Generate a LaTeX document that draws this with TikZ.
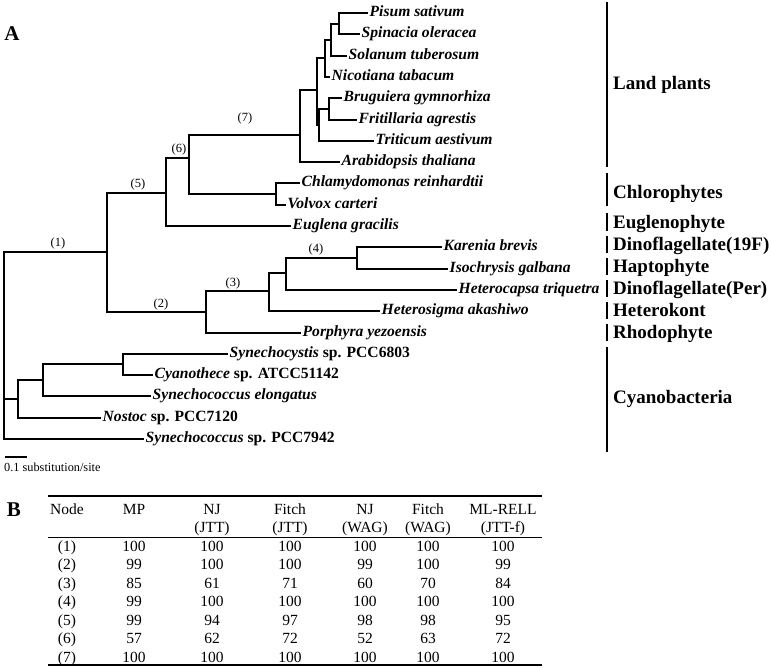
\documentclass[tikz,border=0pt]{standalone}
\usepackage{fontspec}
\setmainfont{Liberation Serif}
\begin{document}
\begin{tikzpicture}[x=1pt,y=-1pt,
  br/.style={line width=2pt},
  tip/.style={anchor=west,inner xsep=1.5pt,inner ysep=0pt,font=\fontsize{15.6}{15}\selectfont\bfseries\itshape,text height=10pt,text depth=3pt},
  grp/.style={anchor=west,inner sep=0pt,font=\fontsize{19}{19}\selectfont\bfseries,text height=12.5pt,text depth=0pt},
  grpbar/.style={line width=2.5pt},
  nlab/.style={inner sep=0pt,font=\fontsize{12.5}{12.5}\selectfont,text height=8pt,text depth=0pt},
  panel/.style={inner sep=0pt,font=\fontsize{21}{21}\selectfont\bfseries,text height=14pt,text depth=0pt},
  cell/.style={inner sep=0pt,font=\fontsize{15.5}{15.5}\selectfont,text height=10.5pt,text depth=0pt},
  rulethick/.style={line width=2pt},
  rulethin/.style={line width=1pt}]
\useasboundingbox (0,0) rectangle (771,668);

% panel letters
\node[panel] (A) at (12,34) {A};
\node[panel] (B) at (14,509) {B};

% internal nodes
\coordinate (root) at (4,345);
\coordinate (n1) at (107,252);
\coordinate (n5) at (166,193);
\coordinate (n6) at (189,158);
\coordinate (n7) at (300,135);
\coordinate (nLa) at (317,90);
\coordinate (nPSSN) at (325,58);
\coordinate (nPSS) at (331,40);
\coordinate (nPS) at (339,24);
\coordinate (nBFT) at (319,125);
\coordinate (nBF) at (329,109);
\coordinate (nCV) at (276,194);
\coordinate (n2) at (206,312);
\coordinate (n3) at (269,291);
\coordinate (n3b) at (286,273);
\coordinate (n4) at (357,258);
\coordinate (cy) at (18,399);
\coordinate (cy2) at (43,380);
\coordinate (cy3) at (123,364);

% tips
\node[tip] (t0) at (368,13) {Pisum sativum};
\node[tip] (t1) at (360,34) {Spinacia oleracea};
\node[tip] (t2) at (347,56) {Solanum tuberosum};
\node[tip] (t3) at (330,77) {Nicotiana tabacum};
\node[tip] (t4) at (342,98) {Bruguiera gymnorhiza};
\node[tip] (t5) at (357,120) {Fritillaria agrestis};
\node[tip] (t6) at (374,141) {Triticum aestivum};
\node[tip] (t7) at (340,162) {Arabidopsis thaliana};
\node[tip] (t8) at (300,183) {Chlamydomonas reinhardtii};
\node[tip] (t9) at (286,205) {Volvox carteri};
\node[tip] (t10) at (291,226) {Euglena gracilis};
\node[tip] (t11) at (442,247) {Karenia brevis};
\node[tip] (t12) at (448,269) {Isochrysis galbana};
\node[tip] (t13) at (457,290) {Heterocapsa triquetra};
\node[tip] (t14) at (380,311) {Heterosigma akashiwo};
\node[tip] (t15) at (301,333) {Porphyra yezoensis};
\node[tip] (t16) at (228,354) {Synechocystis\upshape\ sp. PCC6803};
\node[tip] (t17) at (153,375) {Cyanothece\upshape\ sp. ATCC51142};
\node[tip] (t18) at (151,396) {Synechococcus elongatus};
\node[tip] (t19) at (101,418) {Nostoc\upshape\ sp. PCC7120};
\node[tip] (t20) at (144,439) {Synechococcus\upshape\ sp. PCC7942};

% branches
\draw[br] (root) |- (n1);
\draw[br] (root) |- (cy);
\draw[br] (root) |- (t20.west);
\draw[br] (n1) |- (n5);
\draw[br] (n1) |- (n2);
\draw[br] (n5) |- (n6);
\draw[br] (n5) |- (t10.west);
\draw[br] (n6) |- (n7);
\draw[br] (n6) |- (nCV);
\draw[br] (n7) |- (nLa);
\draw[br] (n7) |- (t7.west);
\draw[br] (nLa) |- (nPSSN);
\draw[br] (nLa) |- (nBFT);
\draw[br] (nPSSN) |- (nPSS);
\draw[br] (nPSSN) |- (t3.west);
\draw[br] (nPSS) |- (nPS);
\draw[br] (nPSS) |- (t2.west);
\draw[br] (nPS) |- (t0.west);
\draw[br] (nPS) |- (t1.west);
\draw[br] (nBFT) |- (nBF);
\draw[br] (nBFT) |- (t6.west);
\draw[br] (nBF) |- (t4.west);
\draw[br] (nBF) |- (t5.west);
\draw[br] (nCV) |- (t8.west);
\draw[br] (nCV) |- (t9.west);
\draw[br] (n2) |- (n3);
\draw[br] (n2) |- (t15.west);
\draw[br] (n3) |- (n3b);
\draw[br] (n3) |- (t14.west);
\draw[br] (n3b) |- (n4);
\draw[br] (n3b) |- (t13.west);
\draw[br] (n4) |- (t11.west);
\draw[br] (n4) |- (t12.west);
\draw[br] (cy) |- (cy2);
\draw[br] (cy) |- (t19.west);
\draw[br] (cy2) |- (cy3);
\draw[br] (cy2) |- (t18.west);
\draw[br] (cy3) |- (t16.west);
\draw[br] (cy3) |- (t17.west);

% node labels
\node[nlab] (l1) at (58,243) {(1)};
\node[nlab] (l2) at (161,304) {(2)};
\node[nlab] (l3) at (233,283) {(3)};
\node[nlab] (l4) at (316,249) {(4)};
\node[nlab] (l5) at (138,184) {(5)};
\node[nlab] (l6) at (179,149) {(6)};
\node[nlab] (l7) at (245,118) {(7)};

% group bars and labels
\draw[grpbar] (607,2) -- (607,167);
\node[grp] (g1) at (613,83) {Land plants};
\draw[grpbar] (607,173) -- (607,206);
\node[grp] (g2) at (613,192) {Chlorophytes};
\draw[grpbar] (607,213) -- (607,231);
\node[grp] (g3) at (613,222) {Euglenophyte};
\draw[grpbar] (607,236) -- (607,253);
\node[grp] (g4) at (613,244) {Dinoflagellate(19F)};
\draw[grpbar] (607,258) -- (607,275);
\node[grp] (g5) at (613,266) {Haptophyte};
\draw[grpbar] (607,280) -- (607,297);
\node[grp] (g6) at (613,288) {Dinoflagellate(Per)};
\draw[grpbar] (607,302) -- (607,319);
\node[grp] (g7) at (613,310) {Heterokont};
\draw[grpbar] (607,324) -- (607,341);
\node[grp] (g8) at (613,332) {Rhodophyte};
\draw[grpbar] (607,347) -- (607,452);
\node[grp] (g9) at (613,397) {Cyanobacteria};

% scale bar
\coordinate (sb0) at (5,457);
\coordinate (sb1) at (27,457);
\draw[line width=2pt] (sb0) -- (sb1);
\node[anchor=west,inner sep=0pt,font=\fontsize{12.3}{12.3}\selectfont,text height=8pt,text depth=0pt] (sbt) at (4,467) {0.1 substitution/site};

% table
\draw[rulethick] (48,496) -- (542,496);
\draw[rulethin] (48,537.5) -- (542,537.5);
\draw[rulethick] (48,665) -- (542,665);
\node[cell] (h1) at (67,509) {Node};
\node[cell] (h2) at (134,509) {MP};
\node[cell] (h3) at (212,509) {NJ};
\node[cell] (h4) at (290,509) {Fitch};
\node[cell] (h5) at (365,509) {NJ};
\node[cell] (h6) at (428,509) {Fitch};
\node[cell] (h7) at (503,509) {ML-RELL};
\node[cell] (k3) at (212,527) {(JTT)};
\node[cell] (k4) at (290,527) {(JTT)};
\node[cell] (k5) at (365,527) {(WAG)};
\node[cell] (k6) at (428,527) {(WAG)};
\node[cell] (k7) at (503,527) {(JTT-f)};
\foreach \vals [count=\r] in {
  {{(1)},100,100,100,100,100,100},
  {{(2)},99,100,100,99,100,99},
  {{(3)},85,61,71,60,70,84},
  {{(4)},99,100,100,100,100,100},
  {{(5)},99,94,97,98,98,95},
  {{(6)},57,62,72,52,63,72},
  {{(7)},100,100,100,100,100,100}}{
  \foreach \v [count=\c] in \vals {
    \pgfmathsetmacro\xx{{67,134,212,290,365,428,503}[\c-1]}
    \pgfmathsetmacro\yy{546+18.5*(\r-1)}
    \node[cell] (cell-\r-\c) at (\xx,\yy) {\v};
  }
}
\end{tikzpicture}
\end{document}
